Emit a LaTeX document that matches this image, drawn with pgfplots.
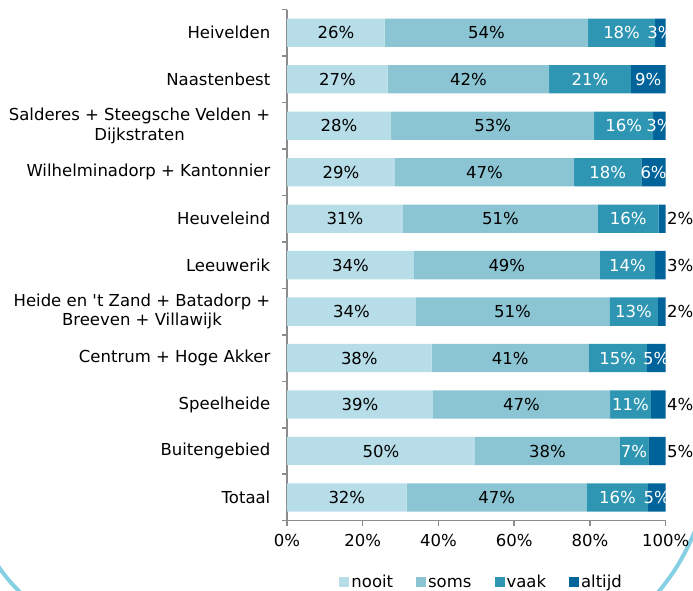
\documentclass[border=0pt]{standalone}
\usepackage{pgfplots}
\pgfplotsset{compat=1.18}
\usepackage{fontspec}
\setmainfont{DejaVu Sans}
\definecolor{cNooit}{HTML}{B7DDE8}
\definecolor{cSoms}{HTML}{8BC5D3}
\definecolor{cVaak}{HTML}{2E96B3}
\definecolor{cAltijd}{HTML}{00649B}
\definecolor{axisgray}{HTML}{8C8C8C}
\definecolor{arccol}{HTML}{86D0E3}
\begin{document}
\fontsize{16.5}{20}\selectfont
\begin{tikzpicture}
\useasboundingbox (0,0) rectangle (693pt,591pt);
\begin{scope}
\clip (0,0) rectangle (693pt,591pt);
\draw[arccol, line width=4pt] (695pt,60pt) to[bend left=8] (656pt,-4pt);
\draw[arccol, line width=4pt] (-4pt,28pt) to[bend right=6] (23pt,-4pt);
\end{scope}
\begin{axis}[
  at={(287pt,70.3pt)}, anchor=south west,
  scale only axis, width=378.7pt, height=511.1pt,
  xbar stacked, bar width=28.3pt,
  xmin=0, xmax=100, ymin=-0.5, ymax=10.5,
  axis x line*=bottom, axis y line*=left,
  axis line style={draw=axisgray, line width=1.5pt, -},
  xtick={0,20,...,100}, xticklabels={0\%,20\%,40\%,60\%,80\%,100\%},
  xticklabel style={yshift=-3pt},
  ytick={0,...,10},
  yticklabels={Totaal, Buitengebied, Speelheide, Centrum + Hoge Akker, {Heide en \textquotesingle t Zand + Batadorp +\\Breeven + Villawijk}, Leeuwerik, Heuveleind, Wilhelminadorp + Kantonnier, {Salderes + Steegsche Velden +\\Dijkstraten}, Naastenbest, Heivelden},
  yticklabel style={align=center, xshift=-6pt, font=\fontsize{16.5}{19.5}\selectfont},
  tick align=outside, major tick length=5pt, minor tick length=5pt,
  tick style={draw=axisgray, line width=1.5pt},
  major y tick style={draw=none},
  minor ytick={-0.5,0.5,...,10.5},
  clip=false,
  legend style={draw=none, at={(0.514,-0.122)}, anchor=center, legend columns=-1,
    nodes={text height=12pt, text depth=3.5pt},
    /tikz/every even column/.append style={column sep=21pt}},
  legend image code/.code={\fill[#1] (0pt,-3.5pt) rectangle (10pt,6.5pt);},
]
\addplot[fill=cNooit, draw=none] coordinates {(25.8,10) (26.6,9) (27.5,8) (28.5,7) (30.6,6) (33.5,5) (34.0,4) (38.2,3) (38.5,2) (49.6,1) (31.6,0)};
\addplot[fill=cSoms, draw=none] coordinates {(53.7,10) (42.6,9) (53.6,8) (47.3,7) (51.5,6) (49.1,5) (51.1,4) (41.5,3) (46.8,2) (38.3,1) (47.6,0)};
\addplot[fill=cVaak, draw=none] coordinates {(17.7,10) (21.6,9) (15.6,8) (17.8,7) (16.0,6) (14.6,5) (12.8,4) (15.3,3) (10.8,2) (7.5,1) (16.1,0)};
\addplot[fill=cAltijd, draw=none] coordinates {(2.8,10) (9.2,9) (3.3,8) (6.4,7) (1.9,6) (2.8,5) (2.1,4) (5.0,3) (3.9,2) (4.6,1) (4.7,0)};
\legend{nooit, soms, vaak, altijd}
\end{axis}
\begin{axis}[
  at={(287pt,70.3pt)}, anchor=south west,
  scale only axis, width=378.7pt, height=511.1pt,
  xmin=0, xmax=100, ymin=-0.5, ymax=10.5,
  hide axis, clip=false,
  nodes near coords, point meta=explicit symbolic,
  nodes near coords align={center},
]
\addplot[draw=none, mark=none, every node near coord/.append style={text=black}] coordinates {
 (12.9,10)[26\%] (13.3,9)[27\%] (13.75,8)[28\%] (14.25,7)[29\%] (15.3,6)[31\%] (16.75,5)[34\%] (17.0,4)[34\%] (19.1,3)[38\%] (19.25,2)[39\%] (24.8,1)[50\%] (15.8,0)[32\%]
 (52.65,10)[54\%] (47.9,9)[42\%] (54.3,8)[53\%] (52.15,7)[47\%] (56.35,6)[51\%] (58.05,5)[49\%] (59.55,4)[51\%] (58.95,3)[41\%] (61.9,2)[47\%] (68.75,1)[38\%] (55.4,0)[47\%]
 (103.8,6)[2\%] (103.8,5)[3\%] (103.8,4)[2\%] (103.8,2)[4\%] (103.8,1)[5\%]
};
\addplot[draw=none, mark=none, every node near coord/.append style={text=white}] coordinates {
 (88.35,10)[18\%] (80.0,9)[21\%] (88.9,8)[16\%] (84.7,7)[18\%] (90.1,6)[16\%] (89.9,5)[14\%] (91.5,4)[13\%] (87.35,3)[15\%] (90.7,2)[11\%] (91.65,1)[7\%] (87.25,0)[16\%]
 (98.6,10)[3\%] (95.4,9)[9\%] (98.35,8)[3\%] (96.8,7)[6\%] (97.5,3)[5\%] (97.65,0)[5\%]
};
\end{axis}
\end{tikzpicture}
\end{document}
